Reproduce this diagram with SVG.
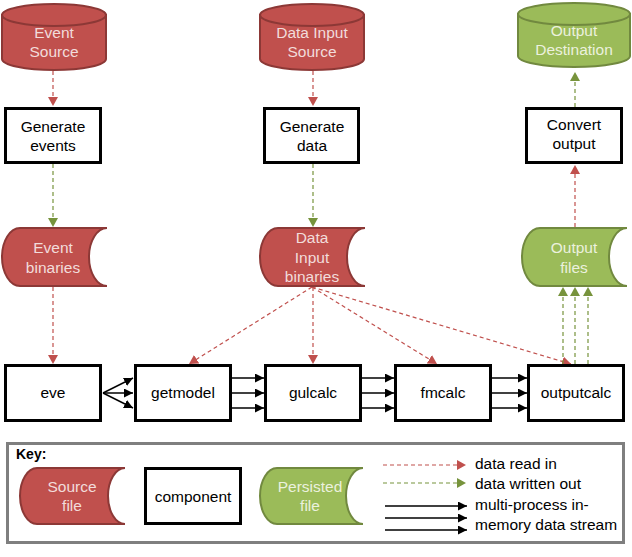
<svg xmlns="http://www.w3.org/2000/svg" width="632" height="557" viewBox="0 0 632 557">
<style>
text{font-family:"Liberation Sans",Arial,sans-serif;font-size:15.5px;text-anchor:middle}
.red{fill:#c0504d;stroke:#8c3836;stroke-width:2}
.grn{fill:#9bbb59;stroke:#71893f;stroke-width:2}
.rt{fill:#f2dcdb}
.gt{fill:#ebf1de}
.box{fill:#fff;stroke:#000;stroke-width:3}
.rd{fill:none;stroke:#c0504d;stroke-width:1.2;stroke-dasharray:4 3;marker-end:url(#ar)}
.gd{fill:none;stroke:#77933c;stroke-width:1.2;stroke-dasharray:4 3;marker-end:url(#ag)}
.bk{fill:none;stroke:#000;stroke-width:1.5;marker-end:url(#ab)}
</style>
<defs>
<marker id="ar" markerUnits="userSpaceOnUse" markerWidth="10" markerHeight="10" refX="9" refY="5" orient="auto"><path d="M0,0L9,5L0,10z" fill="#c0504d"/></marker>
<marker id="ag" markerUnits="userSpaceOnUse" markerWidth="10" markerHeight="10" refX="9" refY="5" orient="auto"><path d="M0,0L9,5L0,10z" fill="#77933c"/></marker>
<marker id="ab" markerUnits="userSpaceOnUse" markerWidth="10" markerHeight="10" refX="9" refY="4.5" orient="auto"><path d="M0,0L9,4.5L0,9z" fill="#000"/></marker>
</defs>

<g id="connectors">
<path class="rd" d="M53,71V106"/>
<path class="gd" d="M53,164V227"/>
<path class="rd" d="M53,287V364"/>
<path class="rd" d="M313,71V106"/>
<path class="gd" d="M313,164V227"/>
<path class="rd" d="M313,287V364"/>
<path class="rd" d="M312,287L189,364"/>
<path class="rd" d="M312,287L437,364"/>
<path class="rd" d="M312,287L571,364"/>
<path class="gd" d="M563,364V287"/>
<path class="gd" d="M575,364V287"/>
<path class="gd" d="M588,364V287"/>
<path class="rd" d="M575,227V165"/>
<path class="gd" d="M575,107V72"/>
<path class="bk" d="M103,393L133,378"/>
<path class="bk" d="M103,393L133,393"/>
<path class="bk" d="M103,393L133,408"/>
<path class="bk" d="M232,378H264"/>
<path class="bk" d="M232,393H264"/>
<path class="bk" d="M232,408H264"/>
<path class="bk" d="M362,378H394"/>
<path class="bk" d="M362,393H394"/>
<path class="bk" d="M362,408H394"/>
<path class="bk" d="M492,378H527"/>
<path class="bk" d="M492,393H527"/>
<path class="bk" d="M492,408H527"/>
</g>

<g id="event-source">
<path class="red" d="M2,15V59A52,11 0 0 0 106,59V15Z"/>
<ellipse class="red" cx="54" cy="15" rx="52" ry="11"/>
<text class="rt" x="54" y="38">Event</text>
<text class="rt" x="54" y="57">Source</text>
</g>
<g id="data-input-source">
<path class="red" d="M260,15V59A52,11 0 0 0 364,59V15Z"/>
<ellipse class="red" cx="312" cy="15" rx="52" ry="11"/>
<text class="rt" x="312" y="38">Data Input</text>
<text class="rt" x="312" y="57">Source</text>
</g>
<g id="output-destination">
<path class="grn" d="M518,14V56A56,11 0 0 0 630,56V14Z"/>
<ellipse class="grn" cx="574" cy="14" rx="56" ry="11"/>
<text class="gt" x="574" y="36">Output</text>
<text class="gt" x="574" y="55">Destination</text>
</g>

<g id="generate-events">
<rect class="box" x="5.5" y="108.5" width="95" height="54"/>
<text x="53" y="132">Generate</text>
<text x="53" y="151">events</text>
</g>
<g id="generate-data">
<rect class="box" x="264.5" y="108.5" width="94" height="54"/>
<text x="312" y="132">Generate</text>
<text x="312" y="151">data</text>
</g>
<g id="convert-output">
<rect class="box" x="526.5" y="108.5" width="95" height="54"/>
<text x="574" y="130">Convert</text>
<text x="574" y="149">output</text>
</g>

<g id="event-binaries">
<path class="red" d="M20,228H107A18,29 0 0 0 107,286H20A18,29 0 0 1 20,228Z"/>
<text class="rt" x="53" y="253">Event</text>
<text class="rt" x="53" y="273">binaries</text>
</g>
<g id="data-input-binaries">
<path class="red" d="M278,228H365A18,29 0 0 0 365,286H278A18,29 0 0 1 278,228Z"/>
<text class="rt" x="312" y="243">Data</text>
<text class="rt" x="312" y="263">Input</text>
<text class="rt" x="312" y="282">binaries</text>
</g>
<g id="output-files">
<path class="grn" d="M540,228H627A18,29 0 0 0 627,286H540A18,29 0 0 1 540,228Z"/>
<text class="gt" x="574" y="253">Output</text>
<text class="gt" x="574" y="273">files</text>
</g>

<g id="eve">
<rect class="box" x="5.5" y="365.5" width="95" height="55"/>
<text x="53" y="398">eve</text>
</g>
<g id="getmodel">
<rect class="box" x="135.5" y="365.5" width="95" height="55"/>
<text x="183" y="398">getmodel</text>
</g>
<g id="gulcalc">
<rect class="box" x="265.5" y="365.5" width="95" height="55"/>
<text x="313" y="398">gulcalc</text>
</g>
<g id="fmcalc">
<rect class="box" x="395.5" y="365.5" width="95" height="55"/>
<text x="443" y="398">fmcalc</text>
</g>
<g id="outputcalc">
<rect class="box" x="528.5" y="365.5" width="95" height="55"/>
<text x="576" y="398">outputcalc</text>
</g>

<g id="key">
<rect x="7.5" y="443.5" width="616" height="99" fill="#fff" stroke="#7f7f7f" stroke-width="3"/>
<text x="16" y="459" style="text-anchor:start;font-weight:bold;font-size:14px">Key:</text>
<path class="red" d="M37,468H125A17,28 0 0 0 125,524H37A17,28 0 0 1 37,468Z"/>
<text class="rt" x="72" y="492">Source</text>
<text class="rt" x="72" y="511">file</text>
<rect class="box" x="145.5" y="468.5" width="95" height="55"/>
<text x="193" y="502">component</text>
<path class="grn" d="M277,468H363A17,28 0 0 0 363,524H277A17,28 0 0 1 277,468Z"/>
<text class="gt" x="310" y="492">Persisted</text>
<text class="gt" x="310" y="511">file</text>
<path class="rd" d="M383,465H466"/>
<path class="gd" d="M383,483H466"/>
<path class="bk" d="M385,506H467"/>
<path class="bk" d="M385,518H467"/>
<path class="bk" d="M385,530H467"/>
<text x="475" y="469" style="text-anchor:start">data read in</text>
<text x="475" y="489" style="text-anchor:start">data written out</text>
<text x="475" y="510" style="text-anchor:start">multi-process in-</text>
<text x="475" y="530" style="text-anchor:start">memory data stream</text>
</g>
</svg>
